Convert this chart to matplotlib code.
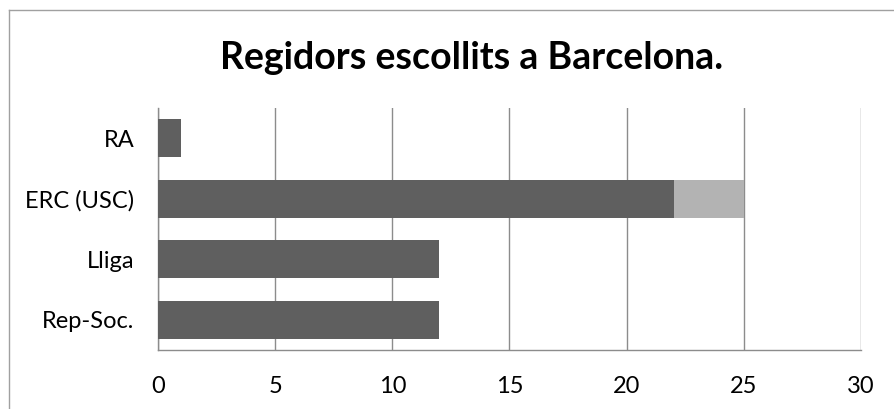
import matplotlib
matplotlib.use("Agg")
import matplotlib.pyplot as plt
from matplotlib.lines import Line2D

# data
parties = ["Rep-Soc.", "Lliga", "ERC (USC)", "RA"]
elected = [12, 12, 22, 1]
extra = [0, 0, 3, 0]
xticks = [0, 5, 10, 15, 20, 25, 30]

plt.rcParams['font.family'] = ['Lato', 'DejaVu Sans']

fig = plt.figure(figsize=(8.94, 4.09), dpi=100)
ax = fig.add_axes([0.1767, 0.1443, 0.7864, 0.5917])

ypos = range(len(parties))
ax.barh(ypos, elected, height=0.63, color='#5f5f5f', zorder=3)
ax.barh(ypos, extra, left=elected, height=0.63, color='#b3b3b3', zorder=3)

ax.set_xlim(0, 30)
ax.set_ylim(-0.5, len(parties) - 0.5)
ax.set_xticks(xticks)
ax.set_xticklabels([str(t) for t in xticks], fontsize=17)
ax.set_yticks(list(ypos))
ax.set_yticklabels(parties, fontsize=17)
ax.tick_params(length=0, pad=19, axis='x')
ax.tick_params(length=0, pad=17, axis='y')
ax.xaxis.grid(True, color='#8c8c8c', linewidth=1)
ax.set_axisbelow(True)
for s in ['top', 'right']:
    ax.spines[s].set_visible(False)
for s in ['left', 'bottom']:
    ax.spines[s].set_color('#8c8c8c')
    ax.spines[s].set_linewidth(1)

fig.text(472 / 894, 1 - 58 / 409, "Regidors escollits a Barcelona.", ha='center', va='center',
         fontsize=27, fontweight='bold')

# chart frame (only top and left edges visible in the crop)
fig.add_artist(Line2D([8.5 / 894, 8.5 / 894], [0, 1 - 9.5 / 409], color='#a0a0a0', lw=1))
fig.add_artist(Line2D([8.5 / 894, 1], [1 - 9.5 / 409, 1 - 9.5 / 409], color='#a0a0a0', lw=1))

fig.savefig("out.png", dpi=100)
